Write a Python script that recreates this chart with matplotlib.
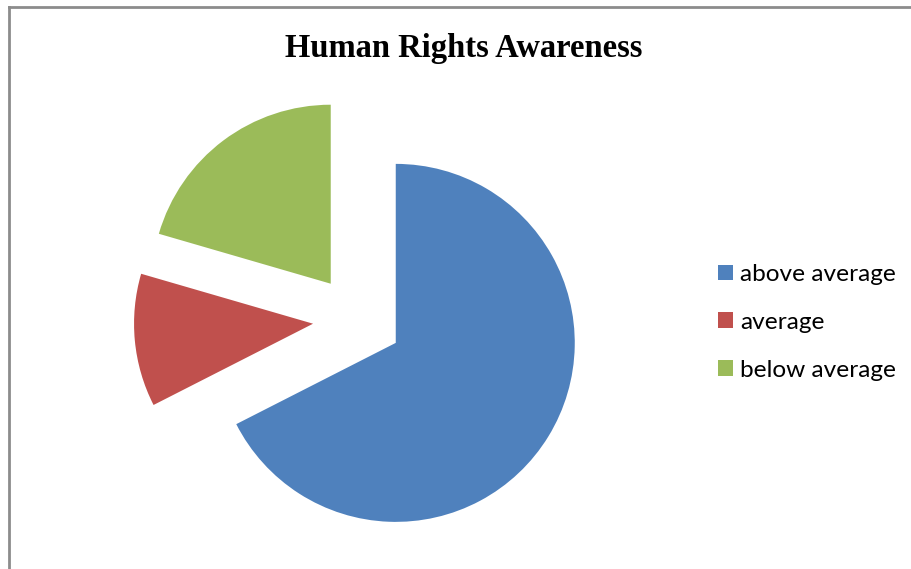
import matplotlib
matplotlib.use("Agg")
import matplotlib.pyplot as plt
from matplotlib.lines import Line2D

# data
categories = ["above average", "average", "below average"]
shares = [67.5, 12, 20.5]
colors = ["#4F81BD", "#C0504D", "#9BBB59"]

W, H = 911, 569
R = 179  # pie radius in pixels
explode = [0.25 * R] * 3  # matplotlib explode is in data units

fig = plt.figure(figsize=(W / 100, H / 100), dpi=100)
ax = fig.add_axes([0, 0, 1, 1])

wedges, _ = ax.pie(shares, colors=colors, explode=explode, startangle=90,
                   counterclock=False, radius=R, center=(357.6, H - 319.5),
                   frame=True, wedgeprops=dict(linewidth=0))
ax.set_xlim(0, W)
ax.set_ylim(0, H)
ax.axis("off")

fig.text(464 / W, 1 - 48 / H, "Human Rights Awareness", ha="center", va="center",
         fontsize=23.5, fontweight="bold", family="Liberation Serif")

ax.legend(wedges, categories, loc="center left", bbox_to_anchor=(718 / W, 1 - 322.5 / H),
          bbox_transform=fig.transFigure, frameon=False, borderpad=0, borderaxespad=0,
          handlelength=0.62, handleheight=0.62, handletextpad=0.29, labelspacing=1.1,
          prop={"family": "Lato", "size": 17.6})

# chart frame: only top and left edges visible
fig.add_artist(Line2D([9 / W, 1], [1 - 7 / H, 1 - 7 / H], color="#8c8c8c", lw=2,
                      transform=fig.transFigure))
fig.add_artist(Line2D([9 / W, 9 / W], [0, 1 - 7 / H], color="#8c8c8c", lw=2,
                      transform=fig.transFigure))

fig.savefig("out.png", dpi=100)
